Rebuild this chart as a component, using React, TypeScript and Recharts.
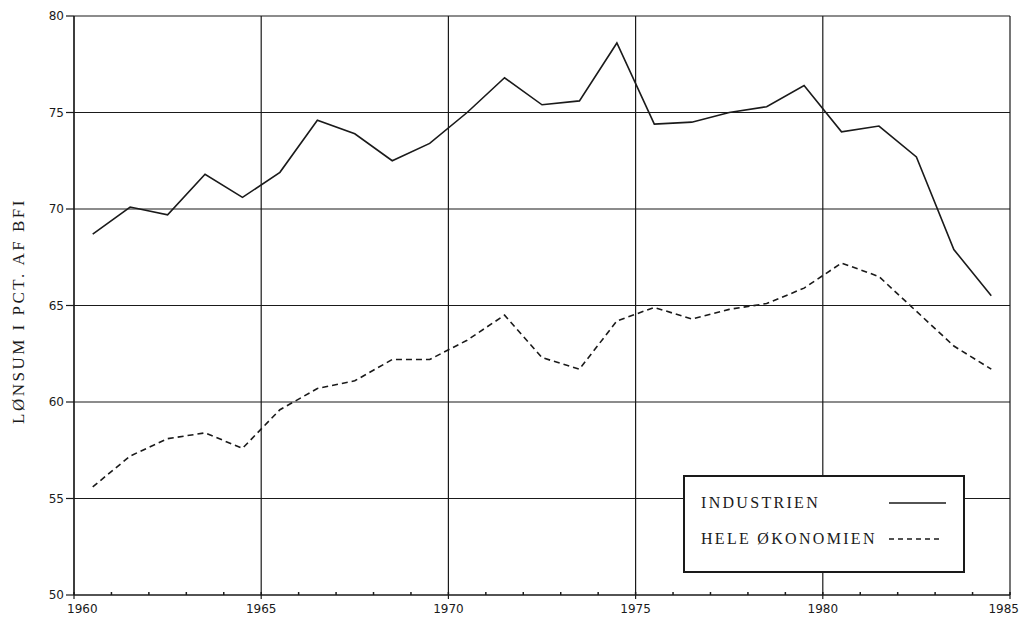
import React from "react";
import { LineChart, Line, XAxis, YAxis, CartesianGrid } from "recharts";

// mid-year observations, 1960.5 .. 1984.5
const years = [
  1960.5, 1961.5, 1962.5, 1963.5, 1964.5, 1965.5, 1966.5, 1967.5, 1968.5,
  1969.5, 1970.5, 1971.5, 1972.5, 1973.5, 1974.5, 1975.5, 1976.5, 1977.5,
  1978.5, 1979.5, 1980.5, 1981.5, 1982.5, 1983.5, 1984.5,
];

const industrien = [
  68.7, 70.1, 69.7, 71.8, 70.6, 71.9, 74.6, 73.9, 72.5, 73.4, 75.0, 76.8,
  75.4, 75.6, 78.6, 74.4, 74.5, 75.0, 75.3, 76.4, 74.0, 74.3, 72.7, 67.9, 65.5,
];

const heleOkonomien = [
  55.6, 57.2, 58.1, 58.4, 57.6, 59.6, 60.7, 61.1, 62.2, 62.2, 63.2, 64.5,
  62.3, 61.7, 64.2, 64.9, 64.3, 64.8, 65.1, 65.9, 67.2, 66.5, 64.7, 62.9, 61.7,
];

const seriesNames = ["INDUSTRIEN", "HELE ØKONOMIEN"];

const xTicks = [1960, 1965, 1970, 1975, 1980, 1985];
const xMinorTicks = [
  1960, 1961, 1962, 1963, 1964, 1965, 1966, 1967, 1968, 1969, 1970, 1971,
  1972, 1973, 1974, 1975, 1976, 1977, 1978, 1979, 1980, 1981, 1982, 1983,
  1984, 1985,
];
const yTicks = [50, 55, 60, 65, 70, 75, 80];
const yMinorTicks = [
  50, 51, 52, 53, 54, 55, 56, 57, 58, 59, 60, 61, 62, 63, 64, 65, 66, 67, 68,
  69, 70, 71, 72, 73, 74, 75, 76, 77, 78, 79, 80,
];

const yLabel = "LØNSUM I PCT. AF BFI";

const chartData = years.map((year, i) => ({
  year,
  industrien: industrien[i],
  hele: heleOkonomien[i],
}));

const INK = "#1a1a1a";
const tickStyle = { fontFamily: "DejaVu Sans", fontSize: 12, fill: INK };
const serif = "'Liberation Serif', 'DejaVu Serif', serif";

// minor ticks: tick line only, no label
const NoLabel = () => <g />;

// first and last year labels are nudged inwards, as on the original
const YearTick = ({ x, y, payload }: any) => {
  const first = payload.value === xTicks[0];
  const last = payload.value === xTicks[xTicks.length - 1];
  return (
    <text
      x={first ? x - 7 : last ? x + 9 : x}
      y={y + 12}
      textAnchor={first ? "start" : last ? "end" : "middle"}
      {...tickStyle}
    >
      {payload.value}
    </text>
  );
};

const App = () => {
  return (
    <div style={{ position: "relative", width: 1012, height: 613 }}>
      <LineChart
        width={1012}
        height={613}
        data={chartData}
        margin={{ top: 8, right: 10, bottom: 0, left: 0 }}
      >
        <CartesianGrid stroke={INK} strokeWidth={1.2} />
        <XAxis
          dataKey="year"
          type="number"
          domain={[1960, 1985]}
          ticks={xTicks}
          interval={0}
          height={26}
          tickSize={4}
          tick={YearTick}
          stroke={INK}
          strokeWidth={1.2}
        />
        <XAxis
          xAxisId="minor"
          dataKey="year"
          type="number"
          domain={[1960, 1985]}
          ticks={xMinorTicks}
          interval={0}
          mirror
          tick={NoLabel}
          tickSize={3}
          axisLine={false}
          stroke={INK}
          strokeWidth={1.5}
        />
        <YAxis
          type="number"
          domain={[50, 80]}
          ticks={yTicks}
          interval={0}
          width={66}
          tickSize={8}
          tickMargin={2}
          tick={tickStyle}
          stroke={INK}
          strokeWidth={1.2}
          label={{
            content: () => (
              <text
                x={12}
                y={303}
                transform="rotate(-90 12 303)"
                textAnchor="middle"
                dominantBaseline="middle"
                fontFamily={serif}
                fontSize={17}
                letterSpacing={2.5}
                fill={INK}
              >
                {yLabel}
              </text>
            ),
          }}
        />
        <YAxis
          yAxisId="minor"
          type="number"
          domain={[50, 80]}
          ticks={yMinorTicks}
          interval={0}
          mirror
          tick={NoLabel}
          tickSize={3}
          axisLine={false}
          stroke={INK}
          strokeWidth={1.5}
        />
        <Line
          type="linear"
          dataKey="industrien"
          name={seriesNames[0]}
          stroke={INK}
          strokeWidth={1.6}
          dot={false}
          isAnimationActive={false}
        />
        <Line
          type="linear"
          dataKey="hele"
          name={seriesNames[1]}
          stroke={INK}
          strokeWidth={1.6}
          strokeDasharray="6 4"
          dot={false}
          isAnimationActive={false}
        />
      </LineChart>

      {/* legend box sits on top of the grid, lower right */}
      <div
        style={{
          position: "absolute",
          left: 675,
          top: 467,
          width: 278,
          height: 94,
          border: `2px solid ${INK}`,
          background: "#fff",
          fontFamily: serif,
          fontSize: 16,
          letterSpacing: 2.3,
          color: INK,
        }}
      >
        {seriesNames.map((name, i) => (
          <div
            key={name}
            style={{
              position: "absolute",
              left: 16,
              top: i === 0 ? 17 : 53,
              width: 250,
              display: "flex",
              alignItems: "center",
            }}
          >
            <span style={{ width: 188, whiteSpace: "nowrap" }}>{name}</span>
            <svg width={58} height={4}>
              <line
                x1={0}
                y1={2}
                x2={i === 0 ? 57 : 52}
                y2={2}
                stroke={INK}
                strokeWidth={1.6}
                strokeDasharray={i === 0 ? undefined : "5 4"}
              />
            </svg>
          </div>
        ))}
      </div>
    </div>
  );
};

export default App;
